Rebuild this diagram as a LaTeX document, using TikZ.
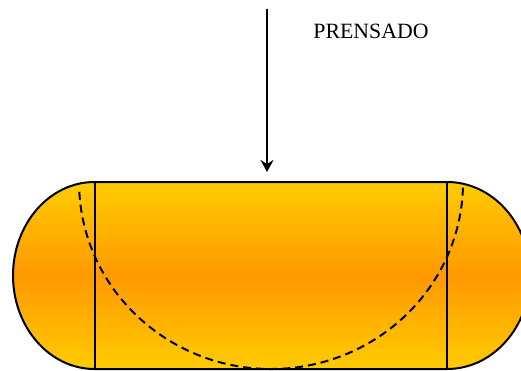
\documentclass[tikz,border=0pt]{standalone}
\usepackage{fontspec}
\setmainfont{Liberation Serif}
\usetikzlibrary{arrows.meta}
\definecolor{prensaclaro}{HTML}{FFCC00}
\definecolor{prensaoscuro}{HTML}{FF9900}
\begin{document}
\begin{tikzpicture}[x=1pt,y=1pt]
    \clip (0,0) rectangle (521,370);
    \coordinate (TL) at (94.5,188); \coordinate (TR) at (447,188);
    \coordinate (BL) at (94.5,1);   \coordinate (BR) at (447,1);
    \coordinate (P) at (267,361);   \coordinate (Q) at (267,198);
    \shade[top color=prensaclaro,bottom color=prensaclaro,middle color=prensaoscuro]
      (TL) arc (90:270:81.5 and 93.5)--(BR) arc (-90:90:83 and 93.5)--cycle;
    \draw[line width=2pt] (TL) arc (90:270:81.5 and 93.5)--(BR) arc (-90:90:83 and 93.5)--cycle;
    \draw[line width=2pt] (TL)--(BL); \draw[line width=2pt] (TR)--(BR);
    \draw[line width=2pt,dash pattern=on 8pt off 5pt] (79.3,178.2) arc (183:359:192 and 187);
    \draw[line width=2pt,-{Stealth[length=12pt,width=13pt,inset=4pt]}] (P)--(Q);
    \node[font=\fontsize{21.8}{24}\selectfont] (prensado) at (371,339) {PRENSADO};
  \end{tikzpicture}
\end{document}
